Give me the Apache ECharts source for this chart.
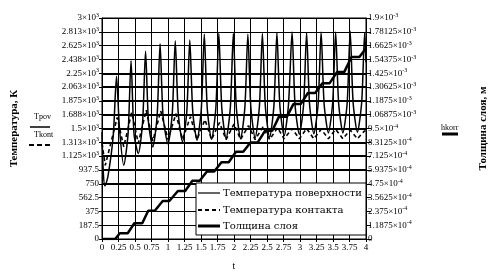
<!DOCTYPE html>
<html><head><meta charset="utf-8">
<script src="https://cdn.jsdelivr.net/npm/echarts@6/dist/echarts.min.js"></script>
<style>html,body{margin:0;padding:0;background:#fff}#c{width:492px;height:273px}</style>
</head><body><div id="c"></div>
<script>
// ---- data ----
const xTickLabels = ['0','0.25','0.5','0.75','1','1.25','1.5','1.75','2','2.25','2.5','2.75','3','3.25','3.5','3.75','4'];
const leftTickLabels = ['0','187.5','375','562.5','750','937.5','1.125×10^3','1.313×10^3','1.5×10^3','1.688×10^3','1.875×10^3','2.063×10^3','2.25×10^3','2.438×10^3','2.625×10^3','2.813×10^3','3×10^3'];
const rightTickLabels = ['0','1.1875×10^-4','2.375×10^-4','3.5625×10^-4','4.75×10^-4','5.9375×10^-4','7.125×10^-4','8.3125×10^-4','9.5×10^-4','1.06875×10^-3','1.1875×10^-3','1.30625×10^-3','1.425×10^-3','1.54375×10^-3','1.6625×10^-3','1.78125×10^-3','1.9×10^-3'];
const seriesNames = ['Температура поверхности','Температура контакта','Толщина слоя'];
// grid rows drawn heavier in the reference (tick values)
const heavyRows = [750, 937.5, 1125, 1312.5, 1500, 1687.5, 1875, 2062.5, 2250];

const surfT = [0,0.02,0.045,0.09,0.17,0.22,0.265,
 0.33,0.395,0.44,0.485, 0.55,0.615,0.66,0.705, 0.77,0.835,0.88,0.925,
 1.00,1.065,1.11,1.155, 1.22,1.285,1.33,1.375, 1.44,1.505,1.55,1.595,
 1.66,1.725,1.77,1.815, 1.88,1.945,1.99,2.035, 2.10,2.165,2.21,2.255,
 2.32,2.385,2.43,2.475, 2.54,2.605,2.65,2.695, 2.76,2.825,2.88,2.925,
 2.99,3.055,3.10,3.145, 3.21,3.275,3.32,3.365, 3.43,3.495,3.54,3.585,
 3.65,3.715,3.76,3.805, 3.87,3.935,3.98,4.0];
const surfV = [1450,900,720,850,1400,2210,1500,
 1000,1430,2420,1430, 1160,1580,2550,1580, 1250,1670,2650,1670,
 1290,1710,2690,1710, 1320,1730,2700,1730, 1340,1770,2780,1770,
 1350,1780,2790,1780, 1360,1790,2790,1790, 1360,1790,2780,1790,
 1370,1800,2790,1800, 1380,1810,2800,1810, 1400,1820,2810,1820,
 1420,1830,2800,1830, 1430,1840,2810,1840, 1440,1850,2810,1850,
 1440,1850,2820,1850, 1450,1860,2800,2400];

const kontT = [0,0.05,0.23,0.33,0.45,0.55,0.67,0.77,0.89,1.00,1.12,1.22,1.34,1.44,1.56,1.66,1.78,1.88,2.00,2.10,2.22,2.32,2.44,2.54,2.66,2.76,2.88,2.99,3.10,3.21,3.32,3.43,3.54,3.65,3.76,3.87,3.98,4.0];
const kontV = [1300,1000,1650,1250,1720,1300,1750,1330,1740,1350,1700,1350,1660,1350,1620,1350,1580,1350,1560,1350,1540,1350,1520,1350,1510,1360,1500,1360,1500,1360,1490,1360,1490,1360,1480,1360,1470,1450];

const thickT = [0,0.2,0.27,0.39,0.49,0.61,0.70,0.80,0.92,1.02,1.15,1.26,1.37,1.48,1.59,1.70,1.81,1.92,2.03,2.14,2.25,2.36,2.47,2.58,2.68,2.80,2.90,3.01,3.12,3.23,3.34,3.45,3.56,3.67,3.78,3.90,4.0];
const thickV = [0,0,5e-5,5e-5,1.35e-4,1.35e-4,2.43e-4,2.43e-4,3.27e-4,3.27e-4,4.13e-4,4.13e-4,5.0e-4,5.0e-4,5.8e-4,5.8e-4,6.6e-4,6.6e-4,7.5e-4,7.5e-4,8.3e-4,8.3e-4,9.3e-4,9.3e-4,1.05e-3,1.05e-3,1.16e-3,1.16e-3,1.255e-3,1.255e-3,1.34e-3,1.34e-3,1.435e-3,1.435e-3,1.565e-3,1.565e-3,1.64e-3];

// ---- chart ----
const FONT = 'Liberation Serif';
const LFONT = 'DejaVu Serif';
const zip = (a, b) => a.map((x, i) => [x, b[i]]);
function rich(lbl) {
  const p = lbl.split('^');
  return p.length === 2 ? '{m|' + p[0] + '}{s|' + p[1] + '}' : '{m|' + lbl + '}';
}
const richStyle = {
  m: { fontSize: 9, fontFamily: FONT, color: '#000', lineHeight: 11 },
  s: { fontSize: 6, fontFamily: FONT, color: '#000', lineHeight: 7, verticalAlign: 'top' }
};
const G = { left: 102, right: 126, top: 18, bottom: 34 };
const chart = echarts.init(document.getElementById('c'), null, { renderer: 'canvas' });
const LX = 196, LY = 183, LR = 492 - G.right;
chart.setOption({
  animation: false,
  backgroundColor: '#fff',
  grid: Object.assign({ show: true, borderColor: '#000', borderWidth: 1, backgroundColor: 'transparent', containLabel: false, outerBoundsMode: 'none' }, G),
  xAxis: {
    type: 'value', min: 0, max: 4, interval: 0.25,
    name: 't', nameLocation: 'middle', nameGap: 22,
    nameTextStyle: { fontFamily: FONT, fontSize: 10, color: '#000' },
    axisLine: { lineStyle: { color: '#000', width: 1 } },
    axisTick: { show: true, length: 3, lineStyle: { color: '#000' } },
    axisLabel: { fontFamily: FONT, fontSize: 9, color: '#000', margin: 4,
      formatter: v => xTickLabels[Math.round(v / 0.25)] },
    splitLine: { show: true, lineStyle: { color: '#000', width: 1 } }
  },
  yAxis: [{
    type: 'value', min: 0, max: 3000, interval: 187.5,
    name: 'Температура, К', nameLocation: 'middle', nameGap: 82, nameRotate: 90,
    nameTextStyle: { fontFamily: FONT, fontSize: 11, fontWeight: 'bold', color: '#000' },
    axisLine: { show: true, lineStyle: { color: '#000', width: 1 } },
    axisTick: { show: true, length: 3, lineStyle: { color: '#000' } },
    axisLabel: { margin: 3, formatter: v => rich(leftTickLabels[Math.round(v / 187.5)]), rich: richStyle },
    splitLine: { show: true, lineStyle: { color: '#000', width: 1 } }
  }, {
    type: 'value', min: 0, max: 0.0019, interval: 0.00011875, position: 'right',
    name: 'Толщина слоя, м', nameLocation: 'middle', nameGap: 112, nameRotate: 90,
    nameTextStyle: { fontFamily: FONT, fontSize: 11, fontWeight: 'bold', color: '#000' },
    axisLine: { show: true, lineStyle: { color: '#000', width: 1 } },
    axisTick: { show: true, length: 5, lineStyle: { color: '#000' } },
    axisLabel: { margin: 2, formatter: v => rich(rightTickLabels[Math.round(v / 0.00011875)]), rich: richStyle },
    splitLine: { show: false }
  }],
  series: [{
    name: seriesNames[0], type: 'line', data: zip(surfT, surfV), showSymbol: false, smooth: 0.25,
    lineStyle: { color: '#000', width: 1.5 },
    markLine: { silent: true, symbol: 'none', label: { show: false }, animation: false,
      lineStyle: { color: '#000', width: 2, type: 'solid' },
      data: heavyRows.map(v => ({ yAxis: v })) }
  }, {
    name: seriesNames[1], type: 'line', data: zip(kontT, kontV), showSymbol: false,
    lineStyle: { color: '#000', width: 1.6, type: [4, 3] }
  }, {
    name: seriesNames[2], type: 'line', yAxisIndex: 1, data: zip(thickT, thickV), showSymbol: false,
    lineStyle: { color: '#000', width: 2.5 }
  }],
  graphic: [
    { type: 'rect', z: 100, shape: { x: LX, y: LY, width: LR - LX, height: 52 }, style: { fill: '#fff', stroke: '#000', lineWidth: 1 } },
    { type: 'line', z: 101, shape: { x1: LX + 2, y1: LY + 10, x2: LX + 24, y2: LY + 10 }, style: { stroke: '#000', lineWidth: 1.2 } },
    { type: 'line', z: 101, shape: { x1: LX + 2, y1: LY + 27, x2: LX + 24, y2: LY + 27 }, style: { stroke: '#000', lineWidth: 2, lineDash: [4, 3] } },
    { type: 'line', z: 101, shape: { x1: LX + 2, y1: LY + 43, x2: LX + 24, y2: LY + 43 }, style: { stroke: '#000', lineWidth: 3 } },
    { type: 'text', z: 101, x: LX + 27, y: LY + 10, style: { text: seriesNames[0], font: '10px ' + LFONT, fill: '#000', verticalAlign: 'middle' } },
    { type: 'text', z: 101, x: LX + 27, y: LY + 27, style: { text: seriesNames[1], font: '10px ' + LFONT, fill: '#000', verticalAlign: 'middle' } },
    { type: 'text', z: 101, x: LX + 27, y: LY + 43, style: { text: seriesNames[2], font: '10px ' + LFONT, fill: '#000', verticalAlign: 'middle' } },
    // y-axis expression labels
    { type: 'text', x: 34, y: 117, style: { text: 'Tpov', font: '8px ' + FONT, fill: '#000', verticalAlign: 'middle' } },
    { type: 'line', shape: { x1: 30, y1: 127, x2: 50, y2: 127 }, style: { stroke: '#000', lineWidth: 1.5 } },
    { type: 'text', x: 34, y: 135, style: { text: 'Tkont', font: '8px ' + FONT, fill: '#000', verticalAlign: 'middle' } },
    { type: 'line', shape: { x1: 29, y1: 145, x2: 51, y2: 145 }, style: { stroke: '#000', lineWidth: 2, lineDash: [5, 3] } },
    { type: 'text', x: 441, y: 128, style: { text: 'hkorr', font: '8px ' + FONT, fill: '#000', verticalAlign: 'middle' } },
    { type: 'line', shape: { x1: 442, y1: 134, x2: 458, y2: 134 }, style: { stroke: '#000', lineWidth: 3 } }
  ]
});
</script></body></html>
